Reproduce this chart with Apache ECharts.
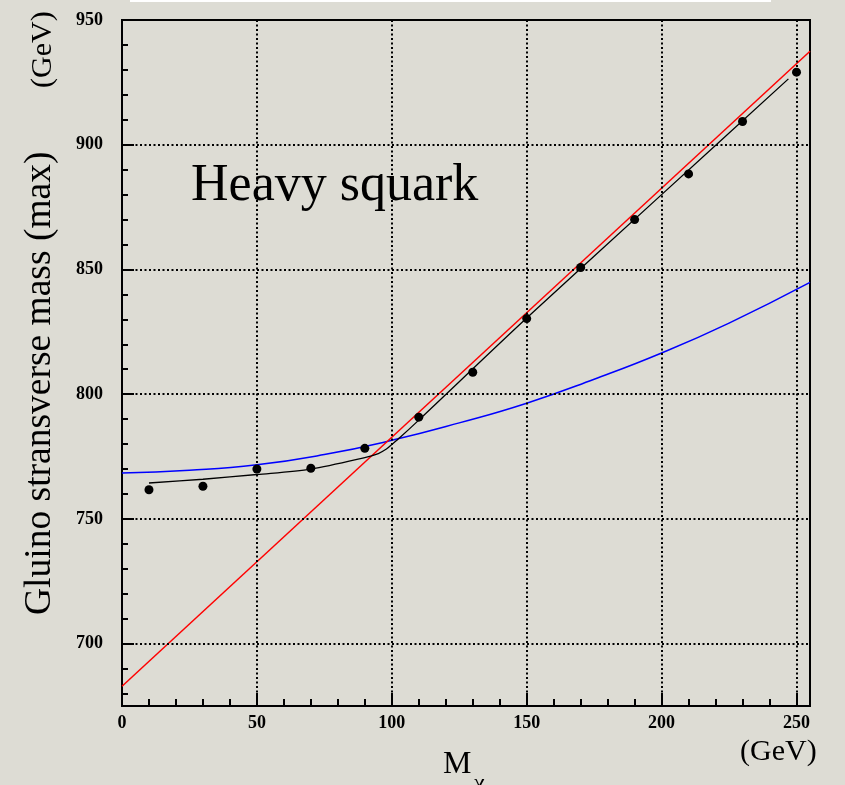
<!DOCTYPE html>
<html>
<head>
<meta charset="utf-8">
<script src="https://cdn.jsdelivr.net/npm/echarts@6/dist/echarts.min.js"></script>
<style>
html,body{margin:0;padding:0;background:#dddcd4;}
#chart{width:845px;height:785px;}
</style>
</head>
<body>
<div id="chart"></div>
<script>
// ---- data ----
const pointX = [10, 30, 50, 70, 90, 110, 130, 150, 170, 190, 210, 230, 250];
const pointY = [761.7, 763.1, 770.0, 770.3, 778.3, 790.8, 808.8, 830.3, 850.8, 870.0, 888.3, 909.3, 929.1];

const fitX = [10, 30, 50, 70, 90, 95, 98, 100, 103, 110, 150, 200, 247];
const fitY = [764.4, 765.9, 767.8, 770.0, 774.6, 776.2, 778.0, 779.8, 782.6, 789.6, 830.5, 880.0, 926.4];

const redX = [0, 255];
const redY = [682.9, 937.5];

const blueX = [0, 25, 50, 75, 100, 125, 150, 175, 200, 225, 255];
const blueY = [768.4, 769.5, 771.7, 775.8, 781.5, 788.5, 796.4, 806.0, 816.5, 828.5, 844.8];

const xMajorTicks = [0, 50, 100, 150, 200, 250];
const xMinorTicks = [10, 20, 30, 40, 60, 70, 80, 90, 110, 120, 130, 140, 160, 170, 180, 190, 210, 220, 230, 240];
const yMajorTicks = [700, 750, 800, 850, 900, 950];
const yMinorTicks = [680, 690, 710, 720, 730, 740, 760, 770, 780, 790, 810, 820, 830, 840, 860, 870, 880, 890, 910, 920, 930, 940];
const xGrid = [50, 100, 150, 200, 250];
const yGrid = [700, 750, 800, 850, 900];

const X_MIN = 0, X_MAX = 255, Y_MIN = 675, Y_MAX = 950;

function zip(xs, ys) { return xs.map((x, i) => [x, ys[i]]); }

const serif = '"Liberation Serif", "DejaVu Serif", serif';
const gridDot = { color: '#000', width: 2, type: [2, 2.5] };

const chart = echarts.init(document.getElementById('chart'), null, { renderer: 'canvas' });

chart.setOption({
  backgroundColor: '#dddcd4',
  animation: false,
  grid: { left: 122, top: 20, right: 35, bottom: 79, show: true, borderColor: '#000', borderWidth: 2, backgroundColor: 'transparent' },
  xAxis: [
    {
      type: 'value', min: X_MIN, max: X_MAX, position: 'bottom',
      axisLine: { show: true, onZero: false, lineStyle: { color: '#000', width: 2 } },
      axisTick: { show: true, inside: true, length: 13, customValues: xMajorTicks, lineStyle: { color: '#000', width: 2 } },
      axisLabel: { show: true, customValues: xMajorTicks, margin: 8, color: '#000', fontFamily: serif, fontWeight: 'bold', fontSize: 18 },
      splitLine: { show: false }
    },
    {
      type: 'value', min: X_MIN, max: X_MAX, position: 'bottom',
      axisLine: { show: false, onZero: false },
      axisTick: { show: true, inside: true, length: 7, customValues: xMinorTicks, lineStyle: { color: '#000', width: 2 } },
      axisLabel: { show: false },
      splitLine: { show: false }
    }
  ],
  yAxis: [
    {
      type: 'value', min: Y_MIN, max: Y_MAX, position: 'left',
      axisLine: { show: true, onZero: false, lineStyle: { color: '#000', width: 2 } },
      axisTick: { show: true, inside: true, length: 12, customValues: yMajorTicks, lineStyle: { color: '#000', width: 2 } },
      axisLabel: { show: true, customValues: yMajorTicks, margin: 19, color: '#000', fontFamily: serif, fontWeight: 'bold', fontSize: 18 },
      splitLine: { show: false }
    },
    {
      type: 'value', min: Y_MIN, max: Y_MAX, position: 'left',
      axisLine: { show: false, onZero: false },
      axisTick: { show: true, inside: true, length: 6, customValues: yMinorTicks, lineStyle: { color: '#000', width: 2 } },
      axisLabel: { show: false },
      splitLine: { show: false }
    }
  ],
  series: [
    {
      name: 'grid', type: 'line', data: [], xAxisIndex: 0, yAxisIndex: 0, silent: true,
      markLine: {
        silent: true, symbol: 'none', animation: false,
        label: { show: false },
        lineStyle: gridDot,
        data: xGrid.map(v => ({ xAxis: v })).concat(yGrid.map(v => ({ yAxis: v })))
      }
    },
    {
      name: 'blue', type: 'line', data: zip(blueX, blueY), smooth: true, showSymbol: false,
      lineStyle: { color: '#0000ff', width: 1.5 }, z: 3
    },
    {
      name: 'red', type: 'line', data: zip(redX, redY), showSymbol: false,
      lineStyle: { color: '#ff0000', width: 1.5 }, z: 3
    },
    {
      name: 'fit', type: 'line', data: zip(fitX, fitY), smooth: 0.3, showSymbol: false,
      lineStyle: { color: '#000', width: 1.3 }, z: 4
    },
    {
      name: 'points', type: 'scatter', data: zip(pointX, pointY), symbol: 'circle', symbolSize: 9,
      itemStyle: { color: '#000', opacity: 1 }, z: 5
    }
  ],
  graphic: [
    { type: 'rect', shape: { x: 130, y: 0, width: 641, height: 2 }, style: { fill: '#ffffff' }, silent: true },
    { type: 'text', x: 40, y: 615, rotation: Math.PI / 2,
      style: { text: 'Gluino stransverse mass (max)', font: '37.5px ' + serif, fill: '#000', textAlign: 'left', textVerticalAlign: 'middle' } },
    { type: 'text', x: 43, y: 88, rotation: Math.PI / 2,
      style: { text: '(GeV)', font: '30px ' + serif, fill: '#000', textAlign: 'left', textVerticalAlign: 'middle' } },
    { type: 'text', x: 191, y: 186,
      style: { text: 'Heavy squark', font: '52px ' + serif, fill: '#000', textAlign: 'left', textVerticalAlign: 'middle' } },
    { type: 'text', x: 740, y: 752,
      style: { text: '(GeV)', font: '30px ' + serif, fill: '#000', textAlign: 'left', textVerticalAlign: 'middle' } },
    { type: 'text', x: 443, y: 765,
      style: { text: 'M', font: '32px ' + serif, fill: '#000', textAlign: 'left', textVerticalAlign: 'middle' } },
    { type: 'text', x: 474, y: 784,
      style: { text: 'χ', font: '24px ' + serif, fill: '#000', textAlign: 'left', textVerticalAlign: 'middle' } }
  ]
});
</script>
</body>
</html>
